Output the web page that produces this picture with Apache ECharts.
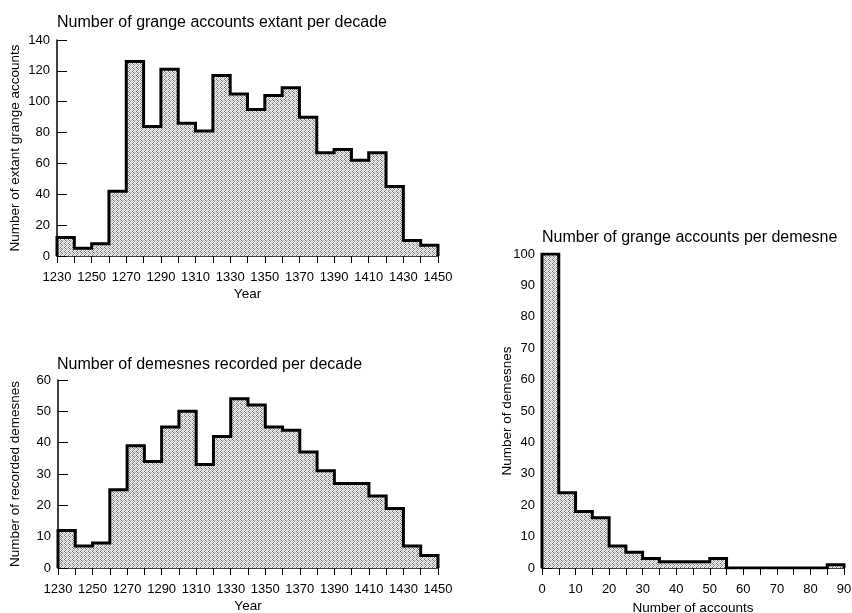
<!DOCTYPE html>
<html>
<head>
<meta charset="utf-8">
<script src="https://cdn.jsdelivr.net/npm/echarts@6/dist/echarts.min.js"></script>
<style>html,body{margin:0;padding:0;background:#fff}#c{width:852px;height:613px}</style>
</head>
<body>
<div id="c"></div>
<script>
// Decade start years 1230..1440 (bin width 10)
const decadeStart = 1230;
const decadeWidth = 10;
const grangeAccountsPerDecade = [12, 5, 8, 42, 126, 84, 121, 86, 81, 117, 105, 95, 104, 109, 90, 67, 69, 62, 67, 45, 10, 7];
const demesnesPerDecade = [12, 7, 8, 25, 39, 34, 45, 50, 33, 42, 54, 52, 45, 44, 37, 31, 27, 27, 23, 19, 7, 4];
// Accounts per demesne, bins of 5 from 0 to 90
const accountsBinStart = 0;
const accountsBinWidth = 5;
const demesnesPerAccountBin = [100, 24, 18, 16, 7, 5, 3, 2, 2, 2, 3, 0, 0, 0, 0, 0, 0, 1];

function stepPoints(start, width, vals) {
  const pts = [[start, 0]];
  vals.forEach((v, i) => pts.push([start + i * width, v]));
  const end = start + vals.length * width;
  pts.push([end, vals[vals.length - 1]]);
  pts.push([end, 0]);
  return pts;
}

// dithered gray fill pattern (style only)
const pc = document.createElement('canvas');
pc.width = 4; pc.height = 4;
const pctx = pc.getContext('2d');
const shades = ['#ffffff','#6a6a6a','#e0e0e0','#b0b0b0',
                '#b8b8b8','#f4f4f4','#7a7a7a','#ffffff',
                '#e6e6e6','#909090','#ffffff','#c4c4c4',
                '#666666','#fafafa','#cccccc','#eeeeee'];
for (let i = 0; i < 16; i++) { pctx.fillStyle = shades[i]; pctx.fillRect(i % 4, Math.floor(i / 4), 1, 1); }
const fill = { image: pc, repeat: 'repeat' };

const font = 'Liberation Sans, Arial, sans-serif';
const txt = { color: '#000', fontFamily: font, fontSize: 13 };
const nameTxt = { color: '#000', fontFamily: font, fontSize: 13.5 };
const titleTxt = { color: '#000', fontFamily: font, fontSize: 16, fontWeight: 'normal' };

function xAxis(gi, min, max, interval, labelStep, name, gap) {
  return {
    type: 'value', gridIndex: gi, min: min, max: max, interval: interval,
    name: name, nameLocation: 'middle', nameGap: gap,
    nameTextStyle: nameTxt,
    axisLine: { show: true, onZero: false, lineStyle: { color: '#000', width: 1.5 } },
    axisTick: { show: true, inside: false, length: 7, lineStyle: { color: '#000', width: 1 } },
    axisLabel: Object.assign({ margin: 15, formatter: v => ((v - min) % labelStep === 0 ? String(v) : '') }, txt),
    splitLine: { show: false }
  };
}
function yAxis(gi, max, interval, name, gap, moveOverlap) {
  return {
    type: 'value', gridIndex: gi, min: 0, max: max, interval: interval,
    name: name, nameLocation: 'middle', nameGap: gap, nameMoveOverlap: moveOverlap,
    nameTextStyle: nameTxt,
    axisLine: { show: true, lineStyle: { color: '#000', width: 1.5 } },
    axisTick: { show: true, inside: true, length: 10, lineStyle: { color: '#000', width: 1 } },
    axisLabel: Object.assign({ margin: 7 }, txt),
    splitLine: { show: false }
  };
}
function series(gi, data) {
  return {
    type: 'line', xAxisIndex: gi, yAxisIndex: gi, step: 'end', data: data,
    showSymbol: false, symbol: 'none', silent: true, animation: false,
    lineStyle: { color: '#000', width: 3, join: 'miter' },
    areaStyle: { color: fill, opacity: 1 }
  };
}

const chart = echarts.init(document.getElementById('c'));
chart.setOption({
  animation: false,
  backgroundColor: '#fff',
  title: [
    { text: 'Number of grange accounts extant per decade', left: 52, top: 10, textStyle: titleTxt },
    { text: 'Number of demesnes recorded per decade', left: 52, top: 352, textStyle: titleTxt },
    { text: 'Number of grange accounts per demesne', left: 537, top: 225, textStyle: titleTxt }
  ],
  grid: [
    { left: 57, right: 414, top: 40, bottom: 357, containLabel: false, outerBoundsMode: 'none' },
    { left: 58, right: 414, top: 380, bottom: 45, containLabel: false, outerBoundsMode: 'none' },
    { left: 542, right: 8, top: 254, bottom: 45, containLabel: false, outerBoundsMode: 'none' }
  ],
  xAxis: [
    xAxis(0, 1230, 1450, 10, 20, 'Year', 31),
    xAxis(1, 1230, 1450, 10, 20, 'Year', 31),
    xAxis(2, 0, 90, 5, 10, 'Number of accounts', 33)
  ],
  yAxis: [
    yAxis(0, 140, 20, 'Number of extant grange accounts', 35, true),
    yAxis(1, 60, 10, 'Number of recorded demesnes', 36, true),
    yAxis(2, 100, 10, 'Number of demesnes', 28, false)
  ],
  series: [
    series(0, stepPoints(decadeStart, decadeWidth, grangeAccountsPerDecade)),
    series(1, stepPoints(decadeStart, decadeWidth, demesnesPerDecade)),
    series(2, stepPoints(accountsBinStart, accountsBinWidth, demesnesPerAccountBin))
  ]
});
</script>
</body>
</html>
